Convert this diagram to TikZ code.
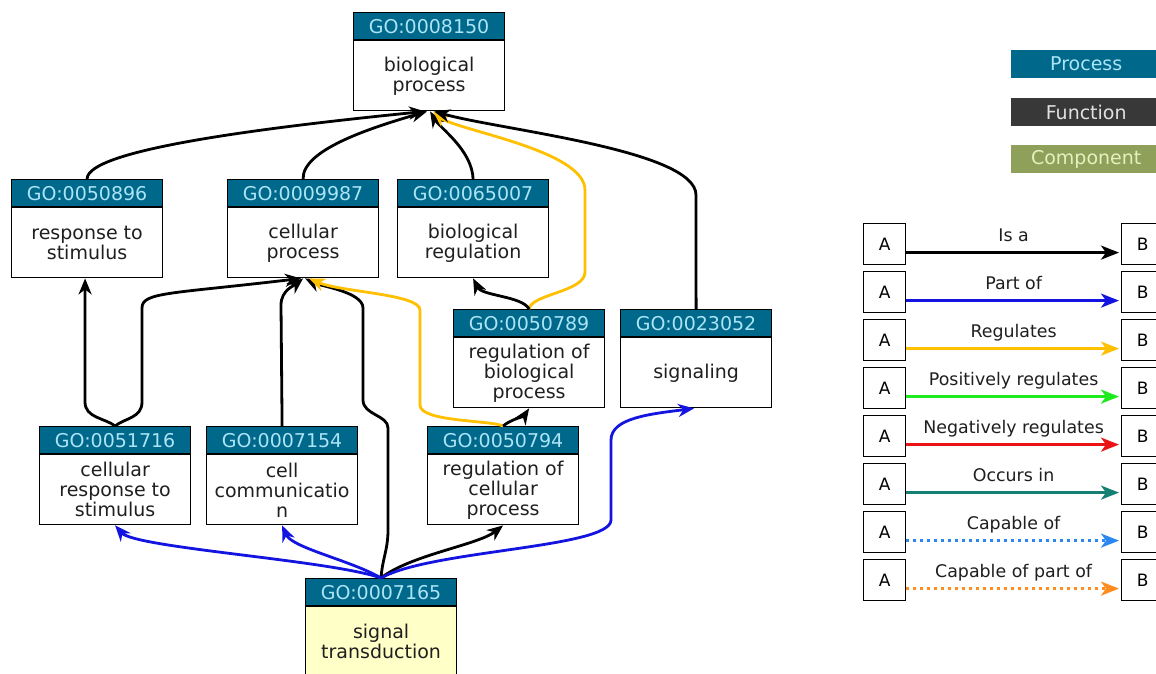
\documentclass[tikz,border=0pt]{standalone}
\usepackage{fontspec}
\setmainfont{DejaVu Sans}
\usetikzlibrary{arrows.meta}
\definecolor{procbg}{RGB}{0,104,139}
\definecolor{proctx}{RGB}{170,228,245}
\definecolor{funcbg}{RGB}{56,56,56}
\definecolor{functx}{RGB}{225,225,225}
\definecolor{compbg}{RGB}{143,160,90}
\definecolor{comptx}{RGB}{230,240,190}
\definecolor{partof}{RGB}{20,20,225}
\definecolor{regul}{RGB}{255,192,0}
\definecolor{posreg}{RGB}{30,235,30}
\definecolor{negreg}{RGB}{235,20,20}
\definecolor{occurs}{RGB}{20,128,115}
\definecolor{capof}{RGB}{45,135,240}
\definecolor{cappart}{RGB}{255,140,30}
\definecolor{sigbg}{RGB}{255,255,200}
\newcommand\gonode[6]{%
  \node[gohead] (h#1) at (#2,#3) {#4};
  \node[gobody, fill=#6] (b#1) at (h#1.south) {#5};
}
\newcommand\legrow[4]{% index, top, label, style
  \node[abox] (la#1) at (863,#2) {A};
  \node[abox] (lb#1) at (1121,#2) {B};
  \draw[legline, #4] ([yshift=-8.5pt]la#1.east) -- ([yshift=-8.5pt]lb#1.west)
    node[leglab] {#3};
}
\begin{document}
\begin{tikzpicture}[x=1pt,y=-1pt,
  nodefont/.style={font=\fontsize{19}{20}\selectfont},
  gohead/.style={draw=black, line width=1.2pt, fill=procbg, text=proctx,
    minimum width=151, minimum height=27, inner sep=0pt, anchor=north west, nodefont},
  gobody/.style={draw=black, line width=1.2pt, minimum width=151, minimum height=70,
    inner sep=0pt, align=center, anchor=north, text=black!88, nodefont},
  rel/.style={line width=2.8pt, -{Stealth[length=16pt,width=13pt,inset=5pt]}},
  isa/.style={rel, draw=black},
  partofr/.style={rel, draw=partof},
  regr/.style={rel, draw=regul},
  legkey/.style={minimum width=150, minimum height=28, inner sep=0pt, anchor=north west, nodefont},
  abox/.style={draw=black, line width=1.2pt, minimum width=42, minimum height=41, inner sep=0pt,
    anchor=north west, font=\fontsize{17}{18}\selectfont},
  leglab/.style={midway, anchor=base, yshift=11pt, font=\fontsize{17.4}{18}\selectfont, text=black!88},
  legline/.style={line width=2.8pt, shorten >=2pt, -{Stealth[length=18pt,width=14pt,inset=5pt]}},
  dotline/.style={dash pattern=on 3pt off 4pt}
]
\useasboundingbox (0,0) rectangle (1156,674);
\fill[white] (0,0) rectangle (1156,674);

% nodes
\gonode{8150}{353}{12}{GO:0008150}{biological\\process}{white}
\gonode{50896}{11}{179}{GO:0050896}{response to\\stimulus}{white}
\gonode{9987}{227}{179}{GO:0009987}{cellular\\process}{white}
\gonode{65007}{397}{179}{GO:0065007}{biological\\regulation}{white}
\gonode{50789}{453}{309}{GO:0050789}{regulation of\\biological\\process}{white}
\gonode{23052}{620}{309}{GO:0023052}{signaling}{white}
\gonode{51716}{39}{426}{GO:0051716}{cellular\\response to\\stimulus}{white}
\gonode{7154}{206}{426}{GO:0007154}{cell\\communicatio\\n}{white}
\gonode{50794}{427}{426}{GO:0050794}{regulation of\\cellular\\process}{white}
\gonode{7165}{305}{578}{GO:0007165}{signal\\transduction}{sigbg}

% edges into biological process
\draw[isa] (h50896.north) .. controls (87,150) and (260,128) .. ([xshift=-4pt]b8150.south);
\draw[isa] (h9987.north) .. controls (302,150) and (370,128) .. ([xshift=-2pt]b8150.south);
\draw[isa] (h65007.north) .. controls (472,150) and (440,128) .. ([xshift=1pt]b8150.south);
\draw[regr] (h50789.north) .. controls (531,294) and (585,292) .. (585,272) -- (585,190)
  .. controls (585,150) and (455,130) .. ([xshift=4pt]b8150.south);
\draw[isa] (h23052.north) -- (696,195) .. controls (696,150) and (500,130) .. ([xshift=5pt]b8150.south);

% edges into cellular process / response to stimulus
\draw[isa] (h51716.north) .. controls (125,418) and (142,418) .. (142,402) -- (142,308)
  .. controls (142,292) and (170,294) .. ([xshift=-2pt]b9987.south);
\draw[isa] (h51716.north) .. controls (105,418) and (85,418) .. (85,402) -- ([xshift=-2pt]b50896.south);
\draw[isa] (h7154.north) -- (281,305) .. controls (281,290) and (295,285) .. (b9987.south);
\draw[isa] (h7165.north) .. controls (382,560) and (388,550) .. (388,530) -- (388,428)
  .. controls (388,415) and (363,415) .. (363,400) -- (363,308)
  .. controls (363,292) and (320,286) .. ([xshift=2pt]b9987.south);
\draw[regr] (h50794.north) .. controls (490,420) and (420,422) .. (420,405) -- (420,310)
  .. controls (420,294) and (340,292) .. ([xshift=6pt]b9987.south);

% into biological regulation and regulation of biological process
\draw[isa] (h50789.north) .. controls (522,296) and (482,296) .. (b65007.south);
\draw[isa] (h50794.north) .. controls (510,420) and (524,416) .. (b50789.south);

% edges from signal transduction
\draw[partofr] (h7165.north) .. controls (330,560) and (135,548) .. (b51716.south);
\draw[partofr] (h7165.north) .. controls (350,560) and (292,548) .. (b7154.south);
\draw[isa] (h7165.north) .. controls (410,555) and (478,545) .. (b50794.south);
\draw[partofr] (h7165.north) .. controls (430,550) and (611,548) .. (611,520) -- (611,440)
  .. controls (611,418) and (650,414) .. ([xshift=-2pt]b23052.south);

% legend: ontology colours
\node[legkey, fill=procbg, text=proctx] (kproc) at (1011,50) {Process};
\node[legkey, fill=funcbg, text=functx] (kfunc) at (1011,98) {Function};
\node[legkey, fill=compbg, text=comptx] (kcomp) at (1011,145) {Component};

% legend: relations
\legrow{0}{223}{Is a}{draw=black}
\legrow{1}{271}{Part of}{draw=partof}
\legrow{2}{319}{Regulates}{draw=regul}
\legrow{3}{367}{Positively regulates}{draw=posreg}
\legrow{4}{415}{Negatively regulates}{draw=negreg}
\legrow{5}{463}{Occurs in}{draw=occurs}
\legrow{6}{511}{Capable of}{draw=capof, dotline}
\legrow{7}{559}{Capable of part of}{draw=cappart, dotline}
\end{tikzpicture}
\end{document}
